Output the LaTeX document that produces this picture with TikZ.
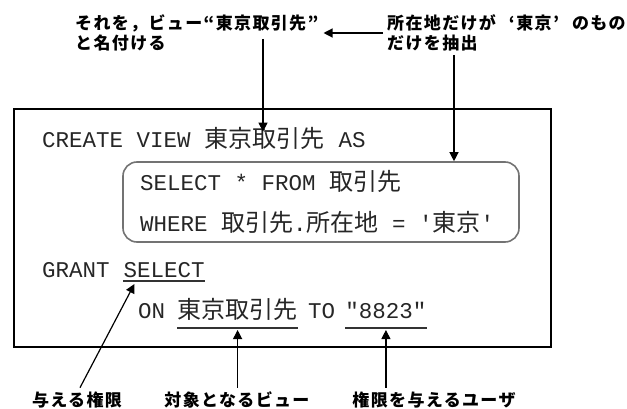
\documentclass[tikz,border=0pt]{standalone}
\usepackage{fontspec}
\newfontfamily\cdfont{Liberation Mono}[Ligatures=TeXOff]
\newfontfamily\jpfont{Noto Sans CJK JP}
\newfontfamily\jplbl{Noto Sans CJK JP}[LetterSpace=8]
\usetikzlibrary{arrows.meta,calc}
\newcommand\jcx{\jpfont\fontsize{24}{28}\selectfont}
\tikzset{
 code/.style={font=\cdfont\fontsize{22.5}{27}\selectfont, inner sep=0pt, anchor=base west, text=black!85},
 jcode/.style={font=\jcx, inner sep=0pt, anchor=base west, text=black!85},
 lbl/.style={font=\jplbl\bfseries\fontsize{17}{20}\selectfont, inner sep=0pt, align=left},
 blbl/.style={lbl, inner ysep=4pt},
 arr/.style={line width=1.2pt, -{Triangle[length=9pt,width=9pt]}},
 uline/.style={line width=1.3pt, black!80},
 frame/.style={draw, line width=1.3pt},
 rbox/.style={draw=black!55, line width=1.6pt, rounded corners=14pt},
}
\begin{document}
\begin{tikzpicture}[x=1pt,y=-1pt]
\useasboundingbox (0,0) rectangle (627,409);
\node[frame, minimum width=537pt, minimum height=238pt, inner sep=0pt] (outer) at (282.5,228) {};
\node[rbox, minimum width=396pt, minimum height=80pt, inner sep=0pt] (rb) at (321,202) {};
% code
\node[code] (cr) at (42,148) {CREATE VIEW};
\node[jcode] (cv) at ([xshift=13.5pt]cr.base east) {東京取引先};
\node[code] (as) at ([xshift=13.5pt]cv.base east) {AS};
\node[code] (s1) at (140,190) {SELECT * FROM {\jcx 取引先}};
\node[code] (s2) at (140,232) {WHERE {\jcx 取引先}.{\jcx 所在地} = '{\jcx 東京}'};
\node[code] (gr) at (42,277) {GRANT};
\node[code] (gsel) at ([xshift=13.5pt]gr.base east) {SELECT};
\node[code] (on) at (138,318) {ON};
\node[jcode] (v) at ([xshift=12pt]on.base east) {東京取引先};
\node[code] (to) at ([xshift=10pt]v.base east) {TO};
\node[code] (q) at ([xshift=10pt]to.base east) {"8823"};
% labels
\node[lbl, anchor=west] (l1) at (75,33) {それを，ビュー“東京取引先”\\と名付ける};
\node[lbl, anchor=west] (l2) at (387,33) {所在地だけが\hspace{13pt}‘東京’\hspace{13pt}のもの\\だけを抽出};
\node[blbl] (b1) at (77,400) {与える権限};
\node[blbl] (b2) at (237,400) {対象となるビュー};
\node[blbl] (b3) at (434,400) {権限を与えるユーザ};
% underlines
\draw[uline] ($(gsel.base west)+(0,4)$) -- ($(gsel.base east)+(0,4)$);
\draw[uline] ($(v.base west)+(0,10)$) -- ($(v.base east)+(0,10)$);
\draw[uline] ($(q.base west)+(0,10)$) -- ($(q.base east)+(0,10)$);
% connectors
\coordinate (a1) at (263,39);
\coordinate (a2) at (454,55);
\draw[arr] ([xshift=-4pt]l2.west) -- ([xshift=5pt]l1.east);
\draw[arr] (a1) -- ($(a1 |- cv.north)+(0,4)$);
\draw[arr] (a2) -- (a2 |- rb.north);
\draw[arr] ([xshift=3pt]b1.north) -- ($(gsel.base west)+(11,7)$);
\draw[arr] (b2.north -| v.base) -- ($(v.base)+(0,12)$);
\draw[arr] (b3.north -| q.base) -- ($(q.base)+(0,12)$);
\end{tikzpicture}
\end{document}
